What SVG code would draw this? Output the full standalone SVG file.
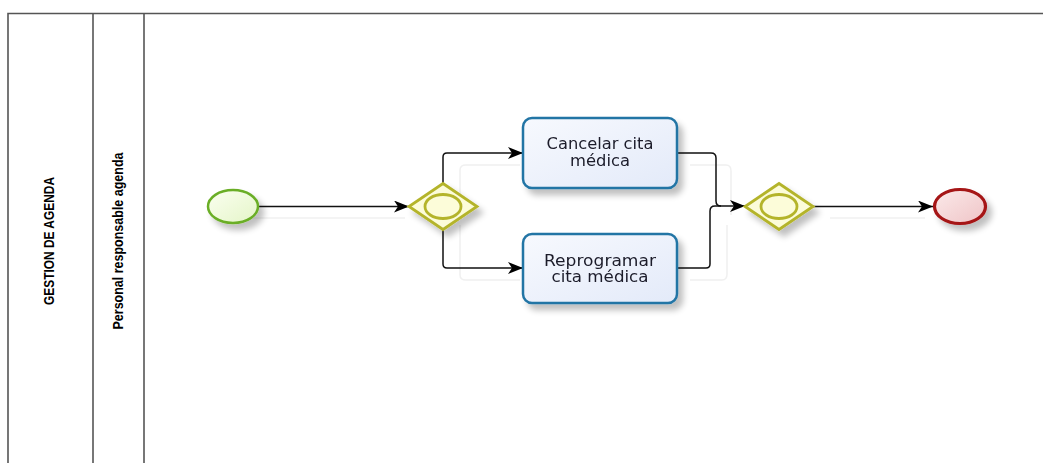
<svg xmlns="http://www.w3.org/2000/svg" width="1043" height="463" viewBox="0 0 1043 463">
<style>
.lane{fill:none;stroke:#555;stroke-width:1.6}
.laneTxt{font-family:"Liberation Sans",Arial,sans-serif;font-weight:bold;fill:#000}
.task{stroke:#2274a5;stroke-width:2.5;fill:url(#gTask)}
.taskTxt{font-family:"DejaVu Sans",Verdana,sans-serif;font-size:15px;fill:#1c1c2a;text-anchor:middle}
.gw{fill:#fcfcd9;stroke:#b4b42c;stroke-width:2.8}
.flow{fill:none;stroke:#111;stroke-width:1.5}
.shadowFlow{fill:none;stroke:#f0f0f0;stroke-width:1.5}
</style>
<defs>
<linearGradient id="gTask" x1="0" y1="0" x2="1" y2="1">
<stop offset="0" stop-color="#f7f9fe"/>
<stop offset="1" stop-color="#e3eaf9"/>
</linearGradient>
<linearGradient id="gStart" x1="0" y1="0" x2="1" y2="1">
<stop offset="0" stop-color="#fbfff0"/>
<stop offset="1" stop-color="#e4f5c8"/>
</linearGradient>
<linearGradient id="gEnd" x1="0" y1="0" x2="1" y2="1">
<stop offset="0" stop-color="#fbeaea"/>
<stop offset="1" stop-color="#efc4c6"/>
</linearGradient>
<filter id="sh" x="-30%" y="-30%" width="170%" height="170%">
<feGaussianBlur in="SourceAlpha" stdDeviation="3"/>
<feOffset dx="5" dy="6" result="b"/>
<feComponentTransfer><feFuncA type="linear" slope="0.25"/></feComponentTransfer>
<feMerge><feMergeNode/><feMergeNode in="SourceGraphic"/></feMerge>
</filter>
<marker id="arr" viewBox="0 0 15 12" refX="15" refY="6" markerWidth="15" markerHeight="12" markerUnits="userSpaceOnUse" orient="auto">
<path d="M0,0 L15,6 L0,12 L4,6 Z" fill="#000"/>
</marker>
</defs>
<rect width="1043" height="463" fill="#fff"/>
<g id="pool">
<path class="lane" d="M8,463 V13.5 H1043" stroke="#444"/>
<line class="lane" x1="93" y1="13.5" x2="93" y2="463" stroke="#777"/>
<line class="lane" x1="144" y1="13.5" x2="144" y2="463" stroke="#777"/>
<text class="laneTxt" font-size="15" transform="translate(54,241) rotate(-90)" text-anchor="middle" textLength="128" lengthAdjust="spacingAndGlyphs">GESTION DE AGENDA</text>
<text class="laneTxt" font-size="14.5" transform="translate(123,241) rotate(-90)" text-anchor="middle" textLength="177" lengthAdjust="spacingAndGlyphs">Personal responsable agenda</text>
</g>
<g id="shadows">
<path class="shadowFlow" d="M245,218 H405"/>
<path class="shadowFlow" d="M460,210 V170 Q460,165 466,165 H520"/>
<path class="shadowFlow" d="M460,225 V275 Q460,280 466,280 H520"/>
<path class="shadowFlow" d="M690,165 H726 Q731,165 731,171 V215"/>
<path class="shadowFlow" d="M690,280 H722 Q727,280 727,274 V225"/>
<path class="shadowFlow" d="M830,218 H925"/>
</g>
<g id="connectors">
<path class="flow" d="M259,206.5 H409" marker-end="url(#arr)"/>
<path class="flow" d="M443,183 V157 Q443,153 447,153 H523" marker-end="url(#arr)"/>
<path class="flow" d="M443,229 V264 Q443,268 447,268 H523" marker-end="url(#arr)"/>
<path class="flow" d="M677,153 H711 Q716,153 716,158 V201 Q716,206 721,206 H745" marker-end="url(#arr)"/>
<path class="flow" d="M677,268 H706 Q710,268 710,264 V211 Q710,206 715,206 H721"/>
<path class="flow" d="M813,206.5 H933" marker-end="url(#arr)"/>
</g>
<g id="start" filter="url(#sh)">
<ellipse cx="233" cy="206.5" rx="25" ry="16.5" fill="url(#gStart)" stroke="#6aae26" stroke-width="2.5"/>
</g>
<g id="gateway1" filter="url(#sh)">
<polygon class="gw" points="443,183.5 477,206.5 443,229.5 409,206.5"/>
<ellipse cx="443" cy="206.5" rx="18" ry="12" fill="none" stroke="#b4b42c" stroke-width="2.8"/>
</g>
<g id="task1" filter="url(#sh)">
<rect class="task" x="523" y="118" width="154" height="70" rx="9"/>
<text class="taskTxt" x="600" y="149" textLength="107" lengthAdjust="spacingAndGlyphs">Cancelar cita</text>
<text class="taskTxt" x="600" y="166" textLength="60" lengthAdjust="spacingAndGlyphs">médica</text>
</g>
<g id="task2" filter="url(#sh)">
<rect class="task" x="523" y="234" width="154" height="69" rx="9"/>
<text class="taskTxt" x="600" y="266" textLength="112" lengthAdjust="spacingAndGlyphs">Reprogramar</text>
<text class="taskTxt" x="600" y="282" textLength="97" lengthAdjust="spacingAndGlyphs">cita médica</text>
</g>
<g id="gateway2" filter="url(#sh)">
<polygon class="gw" points="779,183.5 813,206.5 779,229.5 745,206.5"/>
<ellipse cx="779" cy="206.5" rx="18" ry="12" fill="none" stroke="#b4b42c" stroke-width="2.8"/>
</g>
<g id="end" filter="url(#sh)">
<ellipse cx="960" cy="206.5" rx="25.5" ry="17" fill="url(#gEnd)" stroke="#a51214" stroke-width="3.2"/>
</g>
</svg>
